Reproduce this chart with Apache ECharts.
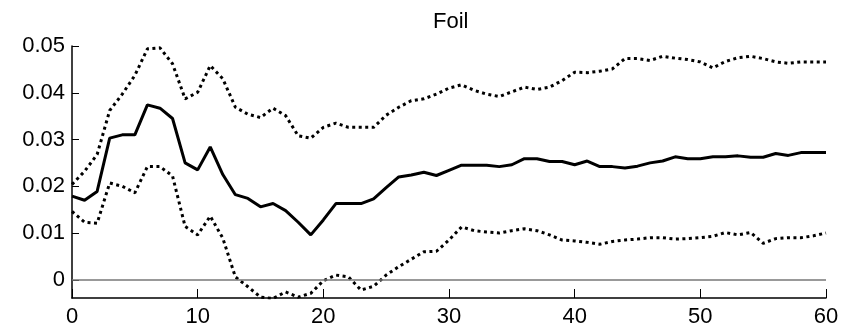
<!DOCTYPE html>
<html>
<head>
<meta charset="utf-8">
<script src="https://cdn.jsdelivr.net/npm/echarts@6/dist/echarts.min.js"></script>
<style>
  html, body { margin: 0; padding: 0; background: #fff; }
  #chart { width: 852px; height: 331px; }
</style>
</head>
<body>
<div id="chart"></div>
<script>
// horizon steps 0..60
const steps = Array.from({ length: 61 }, (_, i) => i)

// median response (solid)
const median = [
  0.0179, 0.0170, 0.0189, 0.0303, 0.0310, 0.0310, 0.0374, 0.0367, 0.0345, 0.0250,
  0.0235, 0.0284, 0.0225, 0.0182, 0.0174, 0.0156, 0.0163, 0.0148, 0.0123, 0.0096,
  0.0128, 0.0163, 0.0163, 0.0163, 0.0173, 0.0197, 0.0220, 0.0224, 0.0230, 0.0223,
  0.0234, 0.0245, 0.0245, 0.0245, 0.0242, 0.0246, 0.0259, 0.0259, 0.0253, 0.0253,
  0.0246, 0.0254, 0.0242, 0.0242, 0.0239, 0.0243, 0.0250, 0.0254, 0.0263, 0.0259,
  0.0259, 0.0263, 0.0263, 0.0265, 0.0262, 0.0262, 0.0270, 0.0266, 0.0272, 0.0272,
  0.0272
]

// upper band (dotted)
const upper = [
  0.0204, 0.0232, 0.0268, 0.0362, 0.0397, 0.0437, 0.0494, 0.0496, 0.0462, 0.0387,
  0.0401, 0.0458, 0.0430, 0.0369, 0.0354, 0.0347, 0.0367, 0.0351, 0.0308, 0.0303,
  0.0326, 0.0335, 0.0326, 0.0326, 0.0326, 0.0352, 0.0369, 0.0383, 0.0387, 0.0397,
  0.0410, 0.0417, 0.0405, 0.0397, 0.0392, 0.0402, 0.0412, 0.0407, 0.0412, 0.0426,
  0.0444, 0.0443, 0.0446, 0.0451, 0.0473, 0.0473, 0.0469, 0.0478, 0.0474, 0.0471,
  0.0466, 0.0453, 0.0467, 0.0475, 0.0478, 0.0473, 0.0466, 0.0463, 0.0466, 0.0466,
  0.0466
]

// lower band (dotted)
const lower = [
  0.0146, 0.0123, 0.0121, 0.0207, 0.0200, 0.0186, 0.0242, 0.0242, 0.0222, 0.0114,
  0.0096, 0.0136, 0.0089, 0.0006, -0.0015, -0.0037, -0.0040, -0.0026, -0.0037, -0.0029,
  -0.0002, 0.0010, 0.0006, -0.0022, -0.0014, 0.0010, 0.0028, 0.0044, 0.0060, 0.0061,
  0.0085, 0.0113, 0.0105, 0.0102, 0.0100, 0.0105, 0.0109, 0.0105, 0.0096, 0.0085,
  0.0083, 0.0080, 0.0076, 0.0082, 0.0085, 0.0087, 0.0090, 0.0090, 0.0087, 0.0088,
  0.0090, 0.0093, 0.0101, 0.0096, 0.0101, 0.0078, 0.0088, 0.0090, 0.0090, 0.0094,
  0.0100
]

const yTicks = [0, 0.01, 0.02, 0.03, 0.04, 0.05]
const yTickLabels = ['0', '0.01', '0.02', '0.03', '0.04', '0.05']

const pairs = arr => steps.map((x, i) => [x, arr[i]])
const font = 'Arial, "Liberation Sans", sans-serif'

const chart = echarts.init(document.getElementById('chart'), null, { renderer: 'canvas' })

chart.setOption({
  animation: false,
  backgroundColor: '#fff',
  title: {
    text: 'Foil',
    left: 428,
    top: 6,
    textStyle: { fontFamily: font, fontSize: 22, fontWeight: 'normal', color: '#000' }
  },
  grid: { left: 72, right: 26, top: 46, bottom: 33, containLabel: false },
  xAxis: {
    type: 'value',
    min: 0,
    max: 60,
    interval: 10,
    axisLine: { show: true, onZero: false, lineStyle: { color: '#000', width: 1.5 } },
    axisTick: { show: true, inside: true, length: 9, lineStyle: { color: '#000', width: 1 } },
    axisLabel: { margin: 8, fontFamily: font, fontSize: 22, color: '#000' },
    splitLine: { show: false }
  },
  yAxis: {
    type: 'value',
    min: -0.0039,
    max: 0.05,
    axisLine: { show: true, onZero: false, lineStyle: { color: '#000', width: 1.5 } },
    axisTick: { show: true, inside: true, length: 7, customValues: yTicks, lineStyle: { color: '#000', width: 1 } },
    axisLabel: {
      margin: 7,
      fontFamily: font,
      fontSize: 22,
      color: '#000',
      customValues: yTicks,
      formatter: v => yTickLabels[yTicks.findIndex(t => Math.abs(t - v) < 1e-9)]
    },
    splitLine: { show: false }
  },
  series: [
    {
      name: 'median',
      type: 'line',
      data: pairs(median),
      showSymbol: false,
      lineStyle: { color: '#000', width: 3 },
      markLine: {
        silent: true,
        symbol: 'none',
        label: { show: false },
        lineStyle: { color: '#777', width: 1.5, type: 'solid' },
        data: [{ yAxis: 0 }]
      },
      z: 3
    },
    {
      name: 'upper',
      type: 'line',
      data: pairs(upper),
      showSymbol: false,
      lineStyle: { color: '#000', width: 3, type: [3, 3.5], cap: 'butt' }
    },
    {
      name: 'lower',
      type: 'line',
      data: pairs(lower),
      showSymbol: false,
      lineStyle: { color: '#000', width: 3, type: [3, 3.5], cap: 'butt' }
    }
  ]
})
</script>
</body>
</html>
